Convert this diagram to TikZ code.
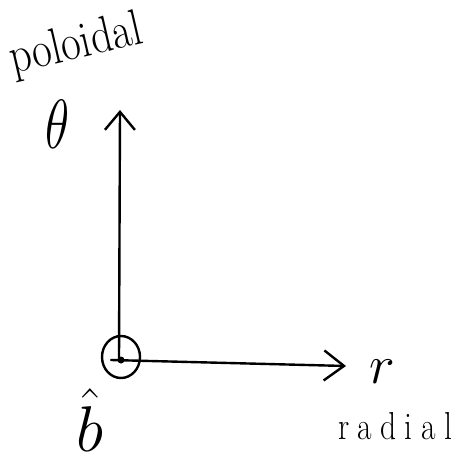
\documentclass[tikz,border=0pt]{standalone}
\usepackage{graphicx}
\usepackage{fontspec}
\usetikzlibrary{arrows.meta,shapes.geometric}
\tikzset{
  sketch/.style={line width=2.4pt, line cap=round, line join=round},
  label/.style={inner sep=0pt, font=\fontsize{34}{34}\selectfont},
}
\begin{document}
\begin{tikzpicture}[x=1pt, y=-1pt]
            \useasboundingbox (0,0) rectangle (460,470);

            % Field line out of the page
            \node[sketch, draw, ellipse, minimum width=38pt, minimum height=42pt, inner sep=0pt] (origin) at (121,357) {};
            \coordinate (dot) at (121,360);
            \fill[black] (dot) circle (3.5pt);

            % Axis ends
            \coordinate (poltip) at (120,110);
            \coordinate (radtip) at (346,366);

            % Axes
            \draw[sketch, -{Straight Barb[length=18pt, width=30pt]}] ([xshift=-2pt]dot) -- (poltip);
            \draw[sketch, -{Straight Barb[length=20pt, width=30pt]}] ([xshift=-10pt]dot) -- (radtip);

            % Labels
            \node[label, rotate=13] (pol) at (76,46) {\scalebox{1.25}[1.5]{poloidal}};
            \node[label] (theta) at (58,124) {\scalebox{2}[2.8]{$\theta$}};
            \node[label] (rlabel) at (382,372) {\scalebox{2.2}{$r$}};
            \node[label, font=\fontsize{30}{30}\selectfont] (rad) at (395,426) {\scalebox{1.05}[1.3]{r\hspace{8pt}a\hspace{8pt}d\hspace{8pt}i\hspace{8pt}a\hspace{8pt}l}};
            \node[label] (bhat) at (90,420) {\scalebox{2.6}{$\hat{b}$}};
\end{tikzpicture}
\end{document}
